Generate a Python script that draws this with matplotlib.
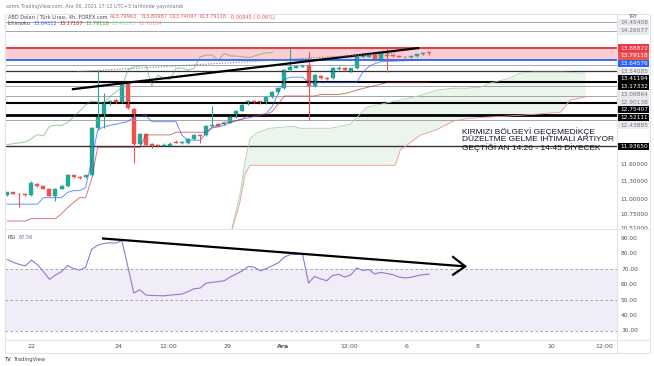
import matplotlib
matplotlib.use('Agg')
import matplotlib.pyplot as plt
from matplotlib.patches import Rectangle
from matplotlib.lines import Line2D
from matplotlib.ticker import NullFormatter, NullLocator
from matplotlib.transforms import blended_transform_factory

W, H = 654, 366

# 4h candles, USD/TRY (bar 0 = first visible candle)
opens = [11.068, 11.12, 11.10, 11.085, 11.07, 11.27, 11.228, 11.18, 11.056, 11.18,
         11.228, 11.42, 11.39, 11.38, 11.415, 12.275, 12.506, 12.754, 12.83, 12.78,
         13.154, 12.642, 11.988, 12.175, 11.975, 11.97, 11.951, 11.94, 12.018, 11.99,
         11.99, 12.068, 12.156, 12.143, 12.313, 12.351, 12.35, 12.383, 12.49, 12.609,
         12.734, 12.805, 12.799, 12.754, 12.884, 12.98, 13.052, 13.425, 13.473, 13.494,
         13.529, 13.099, 13.30, 13.266, 13.254, 13.45, 13.46, 13.39, 13.46, 13.704,
         13.70, 13.74, 13.634, 13.74, 13.74, 13.72, 13.704, 13.691, 13.719, 13.761,
         13.79963]
highs = [11.13, 11.13, 11.11, 11.10, 11.315, 11.28, 11.24, 11.19, 11.19, 11.24,
         11.44, 11.43, 11.40, 11.43, 12.30, 13.425, 12.958, 12.83, 12.85, 13.17,
         13.17, 12.66, 12.19, 12.19, 12.0, 11.98, 11.99, 12.02, 12.05, 12.03,
         12.09, 12.17, 12.17, 12.33, 12.71, 12.37, 12.40, 12.51, 12.62, 12.74,
         12.82, 12.82, 12.81, 12.90, 13.0, 13.08, 13.44, 13.90, 13.52, 13.54,
         13.80, 13.34, 13.32, 13.28, 13.48, 13.51, 13.48, 13.47, 13.72, 13.76,
         13.75, 13.76, 13.79, 13.91, 13.75, 13.73, 13.72, 13.73, 13.77, 13.80,
         13.80987]
lows = [11.06, 11.09, 10.87, 11.06, 11.06, 11.22, 11.17, 11.05, 10.98, 11.17,
        11.22, 11.37, 11.36, 11.37, 11.40, 12.25, 12.275, 12.73, 12.76, 12.77,
        12.64, 11.629, 11.97, 11.94, 11.90, 11.93, 11.94, 11.93, 11.99, 11.98,
        11.98, 12.06, 12.0, 12.13, 12.30, 12.31, 12.34, 12.37, 12.48, 12.60,
        12.72, 12.77, 12.74, 12.74, 12.87, 12.97, 13.04, 13.41, 13.46, 13.48,
        12.428, 13.09, 13.24, 13.22, 13.24, 13.43, 13.41, 13.38, 13.45, 13.69,
        13.69, 13.62, 13.62, 13.384, 13.71, 13.69, 13.68, 13.68, 13.71, 13.75,
        13.74097]
closes = [11.12, 11.097, 11.085, 11.068, 11.28, 11.228, 11.183, 11.056, 11.183, 11.228,
          11.428, 11.385, 11.375, 11.42, 12.288, 12.506, 12.754, 12.805, 12.78, 13.154,
          12.656, 11.988, 12.175, 11.957, 11.938, 11.951, 11.97, 11.988, 11.999, 12.018,
          12.081, 12.156, 12.13, 12.313, 12.332, 12.326, 12.383, 12.492, 12.603, 12.721,
          12.805, 12.779, 12.754, 12.884, 12.984, 13.064, 13.425, 13.494, 13.508, 13.529,
          13.099, 13.322, 13.254, 13.233, 13.46, 13.47, 13.425, 13.46, 13.704, 13.74,
          13.74, 13.634, 13.776, 13.72, 13.72, 13.704, 13.691, 13.719, 13.761, 13.789,
          13.79118]

# ichimoku lines
tenkan = [10.92] * 6 + [11.03] * 4 + [11.12, 11.15, 11.15, 11.20, 11.68, 12.24,
          12.30, 12.33, 12.35, 12.38, 12.40, 12.50, 12.50, 12.52] + [12.40] * 5 + \
         [12.14, 12.05, 12.05, 12.05, 12.18, 12.28, 12.30, 12.33, 12.38, 12.42, 12.45,
          12.47, 12.50, 12.53, 12.56, 12.70, 12.96, 13.23, 13.28, 13.28, 13.28] + \
         [13.17] * 9 + [13.38, 13.50, 13.56, 13.60, 13.61, 13.61, 13.62, 13.62, 13.63,
          13.63, 13.64, 13.645]
kijun = [10.64] * 4 + [10.68] * 5 + [10.76, 10.86, 10.95, 11.03, 11.03, 11.35] + \
        [11.92] * 8 + [12.15] * 5 + [12.20] * 6 + [12.30, 12.32, 12.39, 12.39, 12.42, 12.45] + \
        [12.53] * 4 + [12.60, 12.75] + [12.90] * 6 + [12.93] * 4 + \
        [12.95, 12.98, 13.02, 13.05, 13.08, 13.11, 13.14] + [13.17] * 8
cloud_x = [37.0, 38.6, 39.5, 40.3, 41.5, 43.6, 47.4, 48.6, 53.6, 56.9, 59.7, 64.4, 65.2,
           68.5, 71.3, 74.0, 76.3, 78.5, 80.1, 83.4, 85.1, 87.3, 91.8, 93.4, 95.9]
span_a = [10.40, 11.068, 11.683, 12.087, 12.199, 12.275, 12.313, 12.275, 12.275, 12.351,
          12.679, 12.80, 12.818, 12.91, 13.017, 13.057, 13.057, 13.077, 13.158, 13.26,
          13.363, 13.384, 13.384, 13.38, 13.363]
span_b = [10.40, 10.95, 11.45, 11.593, 11.593, 11.593, 11.593, 11.593, 11.593, 11.593,
          11.593, 11.593, 11.865, 12.143, 12.25, 12.41, 12.46, 12.48, 12.49, 12.51,
          12.524, 12.54, 12.582, 12.818, 12.878]

rsi_vals = [76.3, 74.5, 73.2, 72.2, 76.0, 73.0, 68.5, 63.5, 66.3, 68.5,
            72.5, 70.5, 69.5, 71.3, 83.0, 85.7, 86.8, 87.2, 87.0, 88.7,
            72.0, 54.6, 56.7, 53.3, 53.0, 52.9, 52.8, 53.2, 53.6, 53.9,
            55.5, 57.4, 57.8, 61.0, 61.5, 62.0, 62.6, 65.0, 67.0, 69.0,
            71.9, 71.3, 69.0, 70.5, 72.3, 74.3, 78.0, 79.6, 79.8, 80.0,
            61.1, 65.4, 63.8, 62.6, 66.0, 66.8, 65.0, 66.3, 70.9, 69.3,
            69.8, 67.0, 68.0, 67.3, 66.5, 65.0, 64.4, 64.8, 65.8, 66.5,
            66.8]

# drawn horizontal levels
black_levels = [13.41194, 13.17332, 12.75407, 12.52111, 11.93650]
black_widths = [0.9, 1.5, 1.5, 2.0, 1.0]
grey_levels = [14.45408, 14.26077, 13.54085, 13.09864, 12.90138, 12.43885]
zone_low, zone_high = 13.64576, 13.88822
last_price = 13.79118
price_ticks = [11.6, 11.3, 11.0, 10.75, 10.51]
rsi_ticks = [90, 80, 70, 60, 50, 40, 30]

time_pos = [4.1, 18.4, 26.7, 36.6, 45.8, 56.7, 66.2, 78.1, 90.3, 99.1]
time_lbl = ['22', '24', '12:00', '29', 'Ara', '12:00', '6', '8', '10', '12:00']

GREEN = '#26a69a'
RED = '#ef5350'
GREY_TXT = '#50535e'


def fx(px):
    return px / W


def fy(py):
    return 1 - py / H


def draw_pieces(fig, x0, y0, pieces, size):
    r = fig.canvas.get_renderer()
    x = x0
    for s, c in pieces:
        t = fig.text(fx(x), fy(y0), s, color=c, fontsize=size, va='center', ha='left')
        x += t.get_window_extent(renderer=r).width + 2.5


def main():
    fig = plt.figure(figsize=(W / 100, H / 100), dpi=100)
    fig.patch.set_facecolor('white')

    ax = fig.add_axes([fx(5), fy(228.5), fx(617) - fx(5), fy(14) - fy(228.5)])
    rs = fig.add_axes([fx(5), fy(340), fx(617) - fx(5), fy(228.5) - fy(340)], sharex=ax)

    n = len(closes)
    bars = list(range(n))
    ax.set_yscale('log')
    ax.set_ylim(10.518, 14.638)
    ax.set_xlim(-0.38, 101.2)
    ax.yaxis.set_major_locator(NullLocator())
    ax.yaxis.set_minor_locator(NullLocator())
    ax.yaxis.set_major_formatter(NullFormatter())
    ax.yaxis.set_minor_formatter(NullFormatter())

    # zone + levels
    ax.axhspan(zone_low, zone_high, color='#f23645', alpha=0.24, lw=0)
    ax.axhline(zone_high, color='#f23645', lw=1.4)
    ax.axhline(zone_low, color='#2962ff', lw=1.3)
    for lv in grey_levels:
        ax.axhline(lv, color='#9598a1', lw=0.6)
    for lv, w in zip(black_levels, black_widths):
        ax.axhline(lv, color='black' if w > 1 else '#333333', lw=w)

    # cloud
    ax.fill_between(cloud_x, span_a, span_b, color='#43a047', alpha=0.1, lw=0)
    ax.plot(cloud_x, span_a, color='#a5d6a7', lw=0.6)
    ax.plot(cloud_x, span_b, color='#ef9a9a', lw=0.6)

    # ichimoku lines
    ax.plot(bars, tenkan, color='#2962ff', lw=0.7, alpha=0.7)
    ax.plot(bars, kijun, color='#b71c1c', lw=0.7, alpha=0.6)
    ax.plot(bars[:n - 26], closes[26:], color='#43a047', lw=0.7, alpha=0.55)

    # candles
    cols = [GREEN if c >= o else RED for o, c in zip(opens, closes)]
    ax.vlines(bars, lows, highs, colors=cols, lw=0.8)
    bottoms = [min(o, c) for o, c in zip(opens, closes)]
    heights = [max(abs(c - o), 0.004) for o, c in zip(opens, closes)]
    ax.bar(bars, heights, bottom=bottoms, width=0.66, color=cols, edgecolor=cols, lw=0.3)

    # trend lines
    ax.plot([10.9, 68.2], [13.037, 13.889], color='black', lw=1.6)
    ax.plot([11.7, 64.4], [13.394, 13.782], color='#787b86', lw=0.8, ls=(0, (1, 1.5)))

    ax.text(75.5, 12.29, 'KIRMIZI BÖLGEYİ GEÇEMEDİKÇE\nDÜZELTME GELME İHTİMALİ ARTIYOR\n'
            'GEÇTİĞİ AN 14.26 - 14-45 DİYECEK', fontsize=6, va='top', ha='left',
            linespacing=1.0, color='#131722', family='Liberation Sans')

    # RSI pane
    rs.set_ylim(24.1, 96.5)
    rs.axhspan(30, 70, color='#7e57c2', alpha=0.1, lw=0)
    for lv in (70, 50, 30):
        rs.axhline(lv, color='#9598a1', lw=0.6, ls=(0, (3, 3)))
    rs.plot(bars, rsi_vals, color='#9575cd', lw=0.8)
    rs.plot([15.9, 76.0], [90, 71.9], color='black', lw=1.6)
    rs.plot([74.0, 76.0, 74.0], [78.0, 71.9, 66.5], color='black', lw=1.6)

    for a in (ax, rs):
        for s in a.spines.values():
            s.set_visible(False)
        a.tick_params(which='both', left=False, right=False, labelleft=False)
    ax.tick_params(bottom=False, labelbottom=False)
    rs.set_yticks([])
    rs.set_xticks(time_pos)
    rs.set_xticklabels(time_lbl)
    rs.tick_params(axis='x', length=0, pad=3, labelsize=4.5, labelcolor=GREY_TXT)
    for t in rs.get_xticklabels():
        if t.get_text() == 'Ara':
            t.set_fontweight('bold')

    # frame and separators
    fig.add_artist(Rectangle((fx(5), fy(353)), fx(650) - fx(5), fy(14) - fy(353),
                             transform=fig.transFigure, fill=False, ec='#e0e3eb', lw=0.8))
    for x0, y0, x1, y1 in [(617, 14, 617, 353), (5, 228.5, 650, 228.5), (5, 340, 650, 340)]:
        fig.add_artist(Line2D([fx(x0), fx(x1)], [fy(y0), fy(y1)], transform=fig.transFigure,
                              color='#e0e3eb', lw=0.8))

    # price scale labels, stacked like the platform does
    labels = [(p, '#e9eaee', '#787b86') for p in grey_levels]
    labels += [(p, 'black', 'white') for p in black_levels]
    labels += [(zone_high, '#f23645', 'white'), (last_price, RED, 'white'),
               (zone_low, '#2962ff', 'white')]
    labels.sort(key=lambda t: -t[0])
    prev = None
    for p, bg, fg in labels:
        ypx = H - ax.transData.transform((0, p))[1]
        if prev is not None and ypx - prev < 7.7:
            ypx = prev + 7.7
        prev = ypx
        fig.add_artist(Rectangle((fx(617.5), fy(ypx + 3.7)), fx(649) - fx(617.5), 7.4 / H,
                                 transform=fig.transFigure, color=bg, lw=0))
        fig.text(fx(620), fy(ypx), '%.5f' % p, color=fg, fontsize=4.2, va='center', ha='left')
    tr = blended_transform_factory(fig.transFigure, ax.transData)
    for p in price_ticks:
        ax.text(fx(620), p, '%.5f' % p, transform=tr, color=GREY_TXT, fontsize=4.2,
                va='center', ha='left', clip_on=False)
    tr2 = blended_transform_factory(fig.transFigure, rs.transData)
    for v in rsi_ticks:
        rs.text(fx(621), v, '%.2f' % v, transform=tr2, color=GREY_TXT, fontsize=4.2,
                va='center', ha='left', clip_on=False)
    fig.text(fx(633), fy(16.5), 'TRY', color=GREY_TXT, fontsize=3.6, ha='center', va='center')

    # header / legends
    fig.text(fx(6), fy(6.5), 'asmn TradingView.com, Ara 06, 2021 17:12 UTC+3 tarihinde yayımlandı',
             color='#787b86', fontsize=3.5, va='center', ha='left')
    draw_pieces(fig, 8, 17, [('ABD Doları / Türk Lirası, 4h, FOREX.com', '#434651'),
                             ('A13.79963', RED), ('Y13.80987', RED), ('D13.74097', RED),
                             ('K13.79118', RED), ('-0.00845 (-0.06%)', RED)], 3.6)
    draw_pieces(fig, 8, 23.5, [('İchimoku', '#434651'), ('13.64512', '#2962ff'),
                               ('13.17107', '#b71c1c'), ('13.79118', '#43a047'),
                               ('13.40873', '#a5d6a7'), ('12.76184', '#ef9a9a')], 3.6)
    draw_pieces(fig, 8, 237.7, [('RSI', '#434651'), ('67.56', '#7e57c2')], 3.6)
    draw_pieces(fig, 5, 359.5, [('TV', '#131722'), ('TradingView', '#434651')], 3.8)

    fig.savefig('out.png', dpi=100)


if __name__ == '__main__':
    main()
